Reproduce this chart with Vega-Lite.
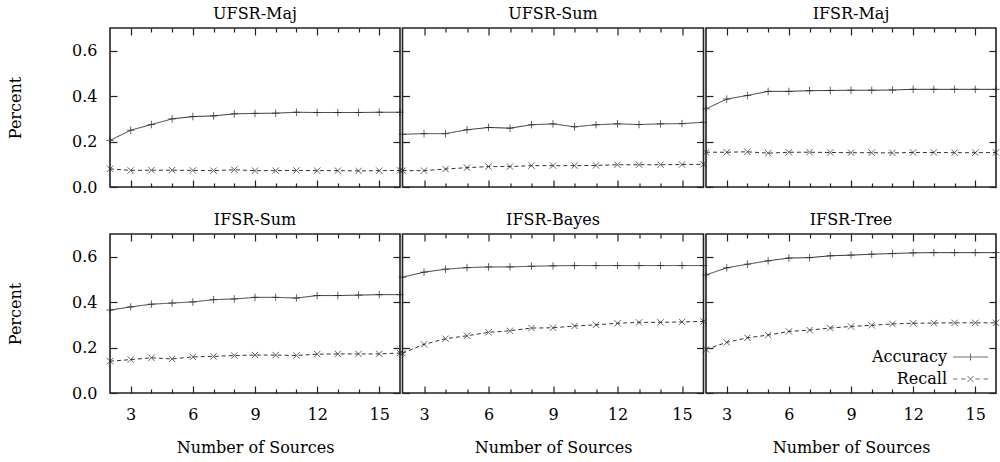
{
  "$schema": "https://vega.github.io/schema/vega-lite/v6.json",
  "padding": {"left": 6, "top": 5, "right": 4, "bottom": 5},
  "config": {
    "font": "DejaVu Serif",
    "view": {"stroke": "#222", "strokeWidth": 1.6},
    "title": {"font": "DejaVu Serif", "fontWeight": "normal"},
    "legend": {"labelFont": "DejaVu Serif"},
    "axis": {"labelFont": "DejaVu Serif", "labelFontSize": 16, "labelColor": "black", "titleFont": "DejaVu Serif", "titleFontSize": 16, "titleFontWeight": "normal", "titleColor": "black", "tickColor": "#222", "tickWidth": 1.2, "domain": false, "grid": false, "labelOverlap": false, "labelFlush": false}
  },
  "data": {"values": [
      {"panel":"UFSR-Maj","metric":"Accuracy","n":2,"value":0.205},{"panel":"UFSR-Maj","metric":"Accuracy","n":3,"value":0.25},{"panel":"UFSR-Maj","metric":"Accuracy","n":4,"value":0.275},{"panel":"UFSR-Maj","metric":"Accuracy","n":5,"value":0.3},{"panel":"UFSR-Maj","metric":"Accuracy","n":6,"value":0.31},{"panel":"UFSR-Maj","metric":"Accuracy","n":7,"value":0.313},{"panel":"UFSR-Maj","metric":"Accuracy","n":8,"value":0.322},{"panel":"UFSR-Maj","metric":"Accuracy","n":9,"value":0.324},{"panel":"UFSR-Maj","metric":"Accuracy","n":10,"value":0.325},{"panel":"UFSR-Maj","metric":"Accuracy","n":11,"value":0.329},{"panel":"UFSR-Maj","metric":"Accuracy","n":12,"value":0.328},{"panel":"UFSR-Maj","metric":"Accuracy","n":13,"value":0.328},{"panel":"UFSR-Maj","metric":"Accuracy","n":14,"value":0.328},{"panel":"UFSR-Maj","metric":"Accuracy","n":15,"value":0.329},{"panel":"UFSR-Maj","metric":"Accuracy","n":16,"value":0.329},
      {"panel":"UFSR-Maj","metric":"Recall","n":2,"value":0.08},{"panel":"UFSR-Maj","metric":"Recall","n":3,"value":0.073},{"panel":"UFSR-Maj","metric":"Recall","n":4,"value":0.074},{"panel":"UFSR-Maj","metric":"Recall","n":5,"value":0.074},{"panel":"UFSR-Maj","metric":"Recall","n":6,"value":0.073},{"panel":"UFSR-Maj","metric":"Recall","n":7,"value":0.072},{"panel":"UFSR-Maj","metric":"Recall","n":8,"value":0.076},{"panel":"UFSR-Maj","metric":"Recall","n":9,"value":0.072},{"panel":"UFSR-Maj","metric":"Recall","n":10,"value":0.072},{"panel":"UFSR-Maj","metric":"Recall","n":11,"value":0.073},{"panel":"UFSR-Maj","metric":"Recall","n":12,"value":0.072},{"panel":"UFSR-Maj","metric":"Recall","n":13,"value":0.072},{"panel":"UFSR-Maj","metric":"Recall","n":14,"value":0.071},{"panel":"UFSR-Maj","metric":"Recall","n":15,"value":0.072},{"panel":"UFSR-Maj","metric":"Recall","n":16,"value":0.073},
      {"panel":"UFSR-Sum","metric":"Accuracy","n":2,"value":0.232},{"panel":"UFSR-Sum","metric":"Accuracy","n":3,"value":0.235},{"panel":"UFSR-Sum","metric":"Accuracy","n":4,"value":0.235},{"panel":"UFSR-Sum","metric":"Accuracy","n":5,"value":0.252},{"panel":"UFSR-Sum","metric":"Accuracy","n":6,"value":0.262},{"panel":"UFSR-Sum","metric":"Accuracy","n":7,"value":0.259},{"panel":"UFSR-Sum","metric":"Accuracy","n":8,"value":0.274},{"panel":"UFSR-Sum","metric":"Accuracy","n":9,"value":0.278},{"panel":"UFSR-Sum","metric":"Accuracy","n":10,"value":0.265},{"panel":"UFSR-Sum","metric":"Accuracy","n":11,"value":0.274},{"panel":"UFSR-Sum","metric":"Accuracy","n":12,"value":0.278},{"panel":"UFSR-Sum","metric":"Accuracy","n":13,"value":0.275},{"panel":"UFSR-Sum","metric":"Accuracy","n":14,"value":0.278},{"panel":"UFSR-Sum","metric":"Accuracy","n":15,"value":0.279},{"panel":"UFSR-Sum","metric":"Accuracy","n":16,"value":0.285},
      {"panel":"UFSR-Sum","metric":"Recall","n":2,"value":0.072},{"panel":"UFSR-Sum","metric":"Recall","n":3,"value":0.072},{"panel":"UFSR-Sum","metric":"Recall","n":4,"value":0.079},{"panel":"UFSR-Sum","metric":"Recall","n":5,"value":0.085},{"panel":"UFSR-Sum","metric":"Recall","n":6,"value":0.09},{"panel":"UFSR-Sum","metric":"Recall","n":7,"value":0.09},{"panel":"UFSR-Sum","metric":"Recall","n":8,"value":0.094},{"panel":"UFSR-Sum","metric":"Recall","n":9,"value":0.094},{"panel":"UFSR-Sum","metric":"Recall","n":10,"value":0.094},{"panel":"UFSR-Sum","metric":"Recall","n":11,"value":0.095},{"panel":"UFSR-Sum","metric":"Recall","n":12,"value":0.098},{"panel":"UFSR-Sum","metric":"Recall","n":13,"value":0.098},{"panel":"UFSR-Sum","metric":"Recall","n":14,"value":0.098},{"panel":"UFSR-Sum","metric":"Recall","n":15,"value":0.099},{"panel":"UFSR-Sum","metric":"Recall","n":16,"value":0.1},
      {"panel":"IFSR-Maj","metric":"Accuracy","n":2,"value":0.344},{"panel":"IFSR-Maj","metric":"Accuracy","n":3,"value":0.387},{"panel":"IFSR-Maj","metric":"Accuracy","n":4,"value":0.403},{"panel":"IFSR-Maj","metric":"Accuracy","n":5,"value":0.421},{"panel":"IFSR-Maj","metric":"Accuracy","n":6,"value":0.421},{"panel":"IFSR-Maj","metric":"Accuracy","n":7,"value":0.424},{"panel":"IFSR-Maj","metric":"Accuracy","n":8,"value":0.425},{"panel":"IFSR-Maj","metric":"Accuracy","n":9,"value":0.426},{"panel":"IFSR-Maj","metric":"Accuracy","n":10,"value":0.426},{"panel":"IFSR-Maj","metric":"Accuracy","n":11,"value":0.427},{"panel":"IFSR-Maj","metric":"Accuracy","n":12,"value":0.43},{"panel":"IFSR-Maj","metric":"Accuracy","n":13,"value":0.43},{"panel":"IFSR-Maj","metric":"Accuracy","n":14,"value":0.43},{"panel":"IFSR-Maj","metric":"Accuracy","n":15,"value":0.43},{"panel":"IFSR-Maj","metric":"Accuracy","n":16,"value":0.43},
      {"panel":"IFSR-Maj","metric":"Recall","n":2,"value":0.153},{"panel":"IFSR-Maj","metric":"Recall","n":3,"value":0.153},{"panel":"IFSR-Maj","metric":"Recall","n":4,"value":0.155},{"panel":"IFSR-Maj","metric":"Recall","n":5,"value":0.149},{"panel":"IFSR-Maj","metric":"Recall","n":6,"value":0.153},{"panel":"IFSR-Maj","metric":"Recall","n":7,"value":0.153},{"panel":"IFSR-Maj","metric":"Recall","n":8,"value":0.152},{"panel":"IFSR-Maj","metric":"Recall","n":9,"value":0.151},{"panel":"IFSR-Maj","metric":"Recall","n":10,"value":0.151},{"panel":"IFSR-Maj","metric":"Recall","n":11,"value":0.15},{"panel":"IFSR-Maj","metric":"Recall","n":12,"value":0.152},{"panel":"IFSR-Maj","metric":"Recall","n":13,"value":0.152},{"panel":"IFSR-Maj","metric":"Recall","n":14,"value":0.151},{"panel":"IFSR-Maj","metric":"Recall","n":15,"value":0.151},{"panel":"IFSR-Maj","metric":"Recall","n":16,"value":0.152},
      {"panel":"IFSR-Sum","metric":"Accuracy","n":2,"value":0.365},{"panel":"IFSR-Sum","metric":"Accuracy","n":3,"value":0.379},{"panel":"IFSR-Sum","metric":"Accuracy","n":4,"value":0.391},{"panel":"IFSR-Sum","metric":"Accuracy","n":5,"value":0.396},{"panel":"IFSR-Sum","metric":"Accuracy","n":6,"value":0.401},{"panel":"IFSR-Sum","metric":"Accuracy","n":7,"value":0.411},{"panel":"IFSR-Sum","metric":"Accuracy","n":8,"value":0.414},{"panel":"IFSR-Sum","metric":"Accuracy","n":9,"value":0.421},{"panel":"IFSR-Sum","metric":"Accuracy","n":10,"value":0.421},{"panel":"IFSR-Sum","metric":"Accuracy","n":11,"value":0.418},{"panel":"IFSR-Sum","metric":"Accuracy","n":12,"value":0.429},{"panel":"IFSR-Sum","metric":"Accuracy","n":13,"value":0.429},{"panel":"IFSR-Sum","metric":"Accuracy","n":14,"value":0.431},{"panel":"IFSR-Sum","metric":"Accuracy","n":15,"value":0.433},{"panel":"IFSR-Sum","metric":"Accuracy","n":16,"value":0.433},
      {"panel":"IFSR-Sum","metric":"Recall","n":2,"value":0.14},{"panel":"IFSR-Sum","metric":"Recall","n":3,"value":0.147},{"panel":"IFSR-Sum","metric":"Recall","n":4,"value":0.155},{"panel":"IFSR-Sum","metric":"Recall","n":5,"value":0.15},{"panel":"IFSR-Sum","metric":"Recall","n":6,"value":0.159},{"panel":"IFSR-Sum","metric":"Recall","n":7,"value":0.161},{"panel":"IFSR-Sum","metric":"Recall","n":8,"value":0.165},{"panel":"IFSR-Sum","metric":"Recall","n":9,"value":0.167},{"panel":"IFSR-Sum","metric":"Recall","n":10,"value":0.167},{"panel":"IFSR-Sum","metric":"Recall","n":11,"value":0.165},{"panel":"IFSR-Sum","metric":"Recall","n":12,"value":0.171},{"panel":"IFSR-Sum","metric":"Recall","n":13,"value":0.172},{"panel":"IFSR-Sum","metric":"Recall","n":14,"value":0.172},{"panel":"IFSR-Sum","metric":"Recall","n":15,"value":0.172},{"panel":"IFSR-Sum","metric":"Recall","n":16,"value":0.176},
      {"panel":"IFSR-Bayes","metric":"Accuracy","n":2,"value":0.51},{"panel":"IFSR-Bayes","metric":"Accuracy","n":3,"value":0.532},{"panel":"IFSR-Bayes","metric":"Accuracy","n":4,"value":0.545},{"panel":"IFSR-Bayes","metric":"Accuracy","n":5,"value":0.552},{"panel":"IFSR-Bayes","metric":"Accuracy","n":6,"value":0.555},{"panel":"IFSR-Bayes","metric":"Accuracy","n":7,"value":0.555},{"panel":"IFSR-Bayes","metric":"Accuracy","n":8,"value":0.558},{"panel":"IFSR-Bayes","metric":"Accuracy","n":9,"value":0.56},{"panel":"IFSR-Bayes","metric":"Accuracy","n":10,"value":0.561},{"panel":"IFSR-Bayes","metric":"Accuracy","n":11,"value":0.561},{"panel":"IFSR-Bayes","metric":"Accuracy","n":12,"value":0.561},{"panel":"IFSR-Bayes","metric":"Accuracy","n":13,"value":0.561},{"panel":"IFSR-Bayes","metric":"Accuracy","n":14,"value":0.561},{"panel":"IFSR-Bayes","metric":"Accuracy","n":15,"value":0.561},{"panel":"IFSR-Bayes","metric":"Accuracy","n":16,"value":0.561},
      {"panel":"IFSR-Bayes","metric":"Recall","n":2,"value":0.175},{"panel":"IFSR-Bayes","metric":"Recall","n":3,"value":0.214},{"panel":"IFSR-Bayes","metric":"Recall","n":4,"value":0.239},{"panel":"IFSR-Bayes","metric":"Recall","n":5,"value":0.252},{"panel":"IFSR-Bayes","metric":"Recall","n":6,"value":0.267},{"panel":"IFSR-Bayes","metric":"Recall","n":7,"value":0.274},{"panel":"IFSR-Bayes","metric":"Recall","n":8,"value":0.286},{"panel":"IFSR-Bayes","metric":"Recall","n":9,"value":0.287},{"panel":"IFSR-Bayes","metric":"Recall","n":10,"value":0.295},{"panel":"IFSR-Bayes","metric":"Recall","n":11,"value":0.3},{"panel":"IFSR-Bayes","metric":"Recall","n":12,"value":0.307},{"panel":"IFSR-Bayes","metric":"Recall","n":13,"value":0.311},{"panel":"IFSR-Bayes","metric":"Recall","n":14,"value":0.311},{"panel":"IFSR-Bayes","metric":"Recall","n":15,"value":0.313},{"panel":"IFSR-Bayes","metric":"Recall","n":16,"value":0.315},
      {"panel":"IFSR-Tree","metric":"Accuracy","n":2,"value":0.52},{"panel":"IFSR-Tree","metric":"Accuracy","n":3,"value":0.551},{"panel":"IFSR-Tree","metric":"Accuracy","n":4,"value":0.567},{"panel":"IFSR-Tree","metric":"Accuracy","n":5,"value":0.582},{"panel":"IFSR-Tree","metric":"Accuracy","n":6,"value":0.594},{"panel":"IFSR-Tree","metric":"Accuracy","n":7,"value":0.596},{"panel":"IFSR-Tree","metric":"Accuracy","n":8,"value":0.604},{"panel":"IFSR-Tree","metric":"Accuracy","n":9,"value":0.607},{"panel":"IFSR-Tree","metric":"Accuracy","n":10,"value":0.611},{"panel":"IFSR-Tree","metric":"Accuracy","n":11,"value":0.614},{"panel":"IFSR-Tree","metric":"Accuracy","n":12,"value":0.617},{"panel":"IFSR-Tree","metric":"Accuracy","n":13,"value":0.618},{"panel":"IFSR-Tree","metric":"Accuracy","n":14,"value":0.618},{"panel":"IFSR-Tree","metric":"Accuracy","n":15,"value":0.618},{"panel":"IFSR-Tree","metric":"Accuracy","n":16,"value":0.618},
      {"panel":"IFSR-Tree","metric":"Recall","n":2,"value":0.192},{"panel":"IFSR-Tree","metric":"Recall","n":3,"value":0.223},{"panel":"IFSR-Tree","metric":"Recall","n":4,"value":0.243},{"panel":"IFSR-Tree","metric":"Recall","n":5,"value":0.255},{"panel":"IFSR-Tree","metric":"Recall","n":6,"value":0.271},{"panel":"IFSR-Tree","metric":"Recall","n":7,"value":0.277},{"panel":"IFSR-Tree","metric":"Recall","n":8,"value":0.286},{"panel":"IFSR-Tree","metric":"Recall","n":9,"value":0.293},{"panel":"IFSR-Tree","metric":"Recall","n":10,"value":0.298},{"panel":"IFSR-Tree","metric":"Recall","n":11,"value":0.304},{"panel":"IFSR-Tree","metric":"Recall","n":12,"value":0.307},{"panel":"IFSR-Tree","metric":"Recall","n":13,"value":0.308},{"panel":"IFSR-Tree","metric":"Recall","n":14,"value":0.309},{"panel":"IFSR-Tree","metric":"Recall","n":15,"value":0.309},{"panel":"IFSR-Tree","metric":"Recall","n":16,"value":0.309}
  ]},
  "columns": 3,
  "bounds": "flush",
  "spacing": {"row": 47, "column": 2.5},
  "resolve": {"scale": {"shape": "independent"}, "legend": {"shape": "independent"}},
  "concat": [
    {
      "width": 290, "height": 159, "title": {"text": "UFSR-Maj", "font": "DejaVu Serif", "fontSize": 16, "fontWeight": "normal", "color": "black", "offset": 5},
      "transform": [{"filter": "datum.panel === 'UFSR-Maj'"}],
      "resolve": {"axis": {"x": "independent", "y": "independent"}},
      "layer": [
        {"mark": {"type": "line", "stroke": "#333", "strokeWidth": 1, "clip": false},
         "encoding": {
           "x": {"field": "n", "type": "quantitative", "scale": {"domain": [2, 16], "nice": false, "zero": false}, "axis": {"orient": "bottom", "values": [3,4,5,6,7,8,9,10,11,12,13,14,15], "tickSize": {"condition": {"test": "datum.value % 3 === 0", "value": -7}, "value": -4}, "labels": false, "title": null}},
           "y": {"field": "value", "type": "quantitative", "scale": {"domain": [0, 0.7], "nice": false}, "axis": {"orient": "left", "values": [0, 0.2, 0.4, 0.6], "tickSize": -7, "labelPadding": 20, "labelFont": "DejaVu Serif", "titleFont": "DejaVu Serif", "title": "Percent", "titlePadding": 48}},
           "strokeDash": {"field": "metric", "type": "nominal", "scale": {"domain": ["Accuracy", "Recall"], "range": [[1, 0], [4, 3]]}, "legend": null}
         }},
        {"mark": {"type": "point", "filled": false, "stroke": "#222", "strokeWidth": 1, "size": 56},
         "encoding": {
           "x": {"field": "n", "type": "quantitative", "axis": {"orient": "top", "values": [3,4,5,6,7,8,9,10,11,12,13,14,15], "tickSize": {"condition": {"test": "datum.value % 3 === 0", "value": -7}, "value": -4}, "labels": false, "title": null}},
           "y": {"field": "value", "type": "quantitative", "axis": {"orient": "right", "values": [0, 0.2, 0.4, 0.6], "tickSize": -7, "labels": false, "title": null}},
           "shape": {"field": "metric", "type": "nominal", "scale": {"domain": ["Accuracy", "Recall"], "range": ["M-1,0L1,0M0,-1L0,1", "M-0.85,-0.85L0.85,0.85M-0.85,0.85L0.85,-0.85"]}, "legend": null}
         }}
      ]
    },
    {
      "width": 301, "height": 159, "title": {"text": "UFSR-Sum", "font": "DejaVu Serif", "fontSize": 16, "fontWeight": "normal", "color": "black", "offset": 5},
      "transform": [{"filter": "datum.panel === 'UFSR-Sum'"}],
      "resolve": {"axis": {"x": "independent", "y": "independent"}},
      "layer": [
        {"mark": {"type": "line", "stroke": "#333", "strokeWidth": 1, "clip": false},
         "encoding": {
           "x": {"field": "n", "type": "quantitative", "scale": {"domain": [2, 16], "nice": false, "zero": false}, "axis": {"orient": "bottom", "values": [3,4,5,6,7,8,9,10,11,12,13,14,15], "tickSize": {"condition": {"test": "datum.value % 3 === 0", "value": -7}, "value": -4}, "labels": false, "title": null}},
           "y": {"field": "value", "type": "quantitative", "scale": {"domain": [0, 0.7], "nice": false}, "axis": {"orient": "left", "values": [0, 0.2, 0.4, 0.6], "tickSize": -7, "labels": false, "title": null}},
           "strokeDash": {"field": "metric", "type": "nominal", "scale": {"domain": ["Accuracy", "Recall"], "range": [[1, 0], [4, 3]]}, "legend": null}
         }},
        {"mark": {"type": "point", "filled": false, "stroke": "#222", "strokeWidth": 1, "size": 56},
         "encoding": {
           "x": {"field": "n", "type": "quantitative", "axis": {"orient": "top", "values": [3,4,5,6,7,8,9,10,11,12,13,14,15], "tickSize": {"condition": {"test": "datum.value % 3 === 0", "value": -7}, "value": -4}, "labels": false, "title": null}},
           "y": {"field": "value", "type": "quantitative", "axis": {"orient": "right", "values": [0, 0.2, 0.4, 0.6], "tickSize": -7, "labels": false, "title": null}},
           "shape": {"field": "metric", "type": "nominal", "scale": {"domain": ["Accuracy", "Recall"], "range": ["M-1,0L1,0M0,-1L0,1", "M-0.85,-0.85L0.85,0.85M-0.85,0.85L0.85,-0.85"]}, "legend": null}
         }}
      ]
    },
    {
      "width": 290, "height": 159, "title": {"text": "IFSR-Maj", "font": "DejaVu Serif", "fontSize": 16, "fontWeight": "normal", "color": "black", "offset": 5},
      "transform": [{"filter": "datum.panel === 'IFSR-Maj'"}],
      "resolve": {"axis": {"x": "independent", "y": "independent"}},
      "layer": [
        {"mark": {"type": "line", "stroke": "#333", "strokeWidth": 1, "clip": false},
         "encoding": {
           "x": {"field": "n", "type": "quantitative", "scale": {"domain": [2, 16], "nice": false, "zero": false}, "axis": {"orient": "bottom", "values": [3,4,5,6,7,8,9,10,11,12,13,14,15], "tickSize": {"condition": {"test": "datum.value % 3 === 0", "value": -7}, "value": -4}, "labels": false, "title": null}},
           "y": {"field": "value", "type": "quantitative", "scale": {"domain": [0, 0.7], "nice": false}, "axis": {"orient": "left", "values": [0, 0.2, 0.4, 0.6], "tickSize": -7, "labels": false, "title": null}},
           "strokeDash": {"field": "metric", "type": "nominal", "scale": {"domain": ["Accuracy", "Recall"], "range": [[1, 0], [4, 3]]}, "legend": null}
         }},
        {"mark": {"type": "point", "filled": false, "stroke": "#222", "strokeWidth": 1, "size": 56},
         "encoding": {
           "x": {"field": "n", "type": "quantitative", "axis": {"orient": "top", "values": [3,4,5,6,7,8,9,10,11,12,13,14,15], "tickSize": {"condition": {"test": "datum.value % 3 === 0", "value": -7}, "value": -4}, "labels": false, "title": null}},
           "y": {"field": "value", "type": "quantitative", "axis": {"orient": "right", "values": [0, 0.2, 0.4, 0.6], "tickSize": -7, "labels": false, "title": null}},
           "shape": {"field": "metric", "type": "nominal", "scale": {"domain": ["Accuracy", "Recall"], "range": ["M-1,0L1,0M0,-1L0,1", "M-0.85,-0.85L0.85,0.85M-0.85,0.85L0.85,-0.85"]}, "legend": null}
         }}
      ]
    },
    {
      "width": 290, "height": 159, "title": {"text": "IFSR-Sum", "font": "DejaVu Serif", "fontSize": 16, "fontWeight": "normal", "color": "black", "offset": 5},
      "transform": [{"filter": "datum.panel === 'IFSR-Sum'"}],
      "resolve": {"axis": {"x": "independent", "y": "independent"}},
      "layer": [
        {"mark": {"type": "line", "stroke": "#333", "strokeWidth": 1, "clip": false},
         "encoding": {
           "x": {"field": "n", "type": "quantitative", "scale": {"domain": [2, 16], "nice": false, "zero": false}, "axis": {"orient": "bottom", "values": [3,4,5,6,7,8,9,10,11,12,13,14,15], "tickSize": {"condition": {"test": "datum.value % 3 === 0", "value": -7}, "value": -4}, "labelExpr": "datum.value % 3 === 0 ? datum.label : ''", "labelPadding": 20, "labelFont": "DejaVu Serif", "titleFont": "DejaVu Serif", "title": "Number of Sources", "titlePadding": 14}},
           "y": {"field": "value", "type": "quantitative", "scale": {"domain": [0, 0.7], "nice": false}, "axis": {"orient": "left", "values": [0, 0.2, 0.4, 0.6], "tickSize": -7, "labelPadding": 20, "labelFont": "DejaVu Serif", "titleFont": "DejaVu Serif", "title": "Percent", "titlePadding": 48}},
           "strokeDash": {"field": "metric", "type": "nominal", "scale": {"domain": ["Accuracy", "Recall"], "range": [[1, 0], [4, 3]]}, "legend": null}
         }},
        {"mark": {"type": "point", "filled": false, "stroke": "#222", "strokeWidth": 1, "size": 56},
         "encoding": {
           "x": {"field": "n", "type": "quantitative", "axis": {"orient": "top", "values": [3,4,5,6,7,8,9,10,11,12,13,14,15], "tickSize": {"condition": {"test": "datum.value % 3 === 0", "value": -7}, "value": -4}, "labels": false, "title": null}},
           "y": {"field": "value", "type": "quantitative", "axis": {"orient": "right", "values": [0, 0.2, 0.4, 0.6], "tickSize": -7, "labels": false, "title": null}},
           "shape": {"field": "metric", "type": "nominal", "scale": {"domain": ["Accuracy", "Recall"], "range": ["M-1,0L1,0M0,-1L0,1", "M-0.85,-0.85L0.85,0.85M-0.85,0.85L0.85,-0.85"]}, "legend": null}
         }}
      ]
    },
    {
      "width": 301, "height": 159, "title": {"text": "IFSR-Bayes", "font": "DejaVu Serif", "fontSize": 16, "fontWeight": "normal", "color": "black", "offset": 5},
      "transform": [{"filter": "datum.panel === 'IFSR-Bayes'"}],
      "resolve": {"axis": {"x": "independent", "y": "independent"}},
      "layer": [
        {"mark": {"type": "line", "stroke": "#333", "strokeWidth": 1, "clip": false},
         "encoding": {
           "x": {"field": "n", "type": "quantitative", "scale": {"domain": [2, 16], "nice": false, "zero": false}, "axis": {"orient": "bottom", "values": [3,4,5,6,7,8,9,10,11,12,13,14,15], "tickSize": {"condition": {"test": "datum.value % 3 === 0", "value": -7}, "value": -4}, "labelExpr": "datum.value % 3 === 0 ? datum.label : ''", "labelPadding": 20, "labelFont": "DejaVu Serif", "titleFont": "DejaVu Serif", "title": "Number of Sources", "titlePadding": 14}},
           "y": {"field": "value", "type": "quantitative", "scale": {"domain": [0, 0.7], "nice": false}, "axis": {"orient": "left", "values": [0, 0.2, 0.4, 0.6], "tickSize": -7, "labels": false, "title": null}},
           "strokeDash": {"field": "metric", "type": "nominal", "scale": {"domain": ["Accuracy", "Recall"], "range": [[1, 0], [4, 3]]}, "legend": null}
         }},
        {"mark": {"type": "point", "filled": false, "stroke": "#222", "strokeWidth": 1, "size": 56},
         "encoding": {
           "x": {"field": "n", "type": "quantitative", "axis": {"orient": "top", "values": [3,4,5,6,7,8,9,10,11,12,13,14,15], "tickSize": {"condition": {"test": "datum.value % 3 === 0", "value": -7}, "value": -4}, "labels": false, "title": null}},
           "y": {"field": "value", "type": "quantitative", "axis": {"orient": "right", "values": [0, 0.2, 0.4, 0.6], "tickSize": -7, "labels": false, "title": null}},
           "shape": {"field": "metric", "type": "nominal", "scale": {"domain": ["Accuracy", "Recall"], "range": ["M-1,0L1,0M0,-1L0,1", "M-0.85,-0.85L0.85,0.85M-0.85,0.85L0.85,-0.85"]}, "legend": null}
         }}
      ]
    },
    {
      "width": 290, "height": 159, "title": {"text": "IFSR-Tree", "font": "DejaVu Serif", "fontSize": 16, "fontWeight": "normal", "color": "black", "offset": 5},
      "transform": [{"filter": "datum.panel === 'IFSR-Tree'"}],
      "resolve": {"axis": {"x": "independent", "y": "independent"}, "scale": {"shape": "independent"}, "legend": {"shape": "independent"}},
      "layer": [
        {"mark": {"type": "line", "stroke": "#333", "strokeWidth": 1, "clip": false},
         "encoding": {
           "x": {"field": "n", "type": "quantitative", "scale": {"domain": [2, 16], "nice": false, "zero": false}, "axis": {"orient": "bottom", "values": [3,4,5,6,7,8,9,10,11,12,13,14,15], "tickSize": {"condition": {"test": "datum.value % 3 === 0", "value": -7}, "value": -4}, "labelExpr": "datum.value % 3 === 0 ? datum.label : ''", "labelPadding": 20, "labelFont": "DejaVu Serif", "titleFont": "DejaVu Serif", "title": "Number of Sources", "titlePadding": 14}},
           "y": {"field": "value", "type": "quantitative", "scale": {"domain": [0, 0.7], "nice": false}, "axis": {"orient": "left", "values": [0, 0.2, 0.4, 0.6], "tickSize": -7, "labels": false, "title": null}},
           "strokeDash": {"field": "metric", "type": "nominal", "scale": {"domain": ["Accuracy", "Recall"], "range": [[1, 0], [4, 3]]}, "legend": null}
         }},
        {"mark": {"type": "point", "filled": false, "stroke": "#222", "strokeWidth": 1, "size": 56},
         "encoding": {
           "x": {"field": "n", "type": "quantitative", "axis": {"orient": "top", "values": [3,4,5,6,7,8,9,10,11,12,13,14,15], "tickSize": {"condition": {"test": "datum.value % 3 === 0", "value": -7}, "value": -4}, "labels": false, "title": null}},
           "y": {"field": "value", "type": "quantitative", "axis": {"orient": "right", "values": [0, 0.2, 0.4, 0.6], "tickSize": -7, "labels": false, "title": null}},
           "shape": {"field": "metric", "type": "nominal", "scale": {"domain": ["Accuracy", "Recall"], "range": ["M-1,0L1,0M0,-1L0,1", "M-0.85,-0.85L0.85,0.85M-0.85,0.85L0.85,-0.85"]}, "legend": null}
         }},
        {"transform": [{"filter": "datum.n < 0"}],
         "mark": {"type": "point", "filled": false, "stroke": "#333", "strokeWidth": 1, "size": 100},
         "encoding": {
           "x": {"field": "n", "type": "quantitative", "axis": null},
           "y": {"field": "value", "type": "quantitative", "axis": null},
           "shape": {"field": "metric", "type": "nominal", "scale": {"domain": ["Accuracy", "Recall"], "range": ["M-7.6,0L-0.6,0M-4.1,-0.7L-4.1,0.7", "M-7.6,0L-6.7,0M-6,0L-5.1,0M-4.7,-0.6L-3.5,0.6M-4.7,0.6L-3.5,-0.6M-3.1,0L-2.2,0M-1.5,0L-0.6,0"]},
             "legend": {"orient": "bottom-right", "title": null, "offset": 6, "labelFont": "DejaVu Serif", "labelFontSize": 16, "labelColor": "black", "labelAlign": "right", "labelOffset": -52, "symbolSize": 100, "rowPadding": 6, "symbolStrokeColor": "#333", "symbolStrokeWidth": 1}}
         }}
      ]
    }
  ]
}
